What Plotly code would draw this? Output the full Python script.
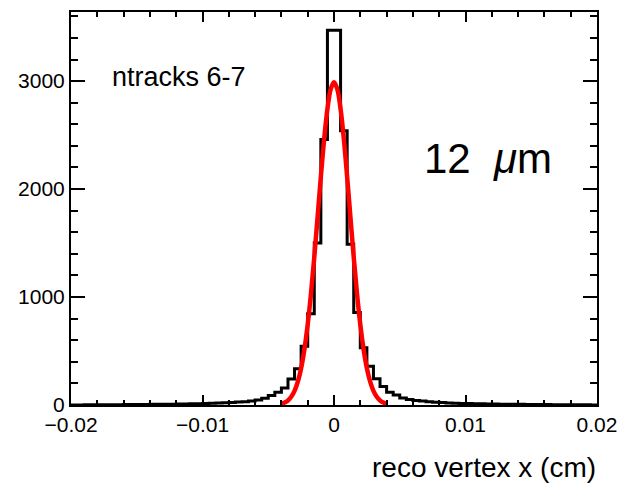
import numpy as np
import plotly.graph_objects as go

# Histogram definition
x_min, x_max, n_bins = -0.02, 0.02, 80
counts = [1, 1, 2, 2, 2, 3, 3, 3, 4, 4, 5, 5, 6, 7, 7, 8, 9, 10, 11, 12,
          14, 16, 18, 21, 24, 27, 31, 37, 47, 62, 88, 118, 158, 240, 335, 545, 845, 1500, 2460,
          3470, 3470,
          2540, 1490, 857, 530, 358, 243, 171, 118, 92, 65, 50, 42, 36, 30, 26, 22, 19, 17, 15,
          13, 12, 11, 10, 9, 8, 7, 7, 6, 5, 5, 4, 4, 3, 3, 3, 2, 2, 2, 1]

# Fit curve points
fit_x = [-0.004, -0.00375, -0.0035, -0.00325, -0.003, -0.00275, -0.0025, -0.00225, -0.002,
         -0.00175, -0.0015, -0.00125, -0.001, -0.00075, -0.0005, -0.00025, 0.0,
         0.00025, 0.0005, 0.00075, 0.001, 0.00125, 0.0015, 0.00175, 0.002,
         0.00225, 0.0025, 0.00275, 0.003, 0.00325, 0.0035, 0.00375, 0.004]
fit_y = [12, 23, 42, 76, 131, 216, 341, 516, 746, 1032, 1369, 1738, 2113, 2460, 2741, 2926, 2990,
         2926, 2741, 2460, 2113, 1738, 1369, 1032, 746, 516, 341, 216, 131, 76, 42, 23, 12]

x_ticks = [-0.02, -0.01, 0, 0.01, 0.02]
x_tick_labels = ["\u22120.02", "\u22120.01", "0", "0.01", "0.02"]
y_ticks = [0, 1000, 2000, 3000]
y_tick_labels = ["0", "1000", "2000", "3000"]

edges = np.linspace(x_min, x_max, n_bins + 1)
step_y = list(counts) + [counts[-1]]

FONT = "Liberation Sans, Arial, Helvetica, sans-serif"

fig = go.Figure()
fig.add_trace(go.Scatter(x=edges, y=step_y, mode="lines", line=dict(shape="hv", color="black", width=3),
                         showlegend=False, hoverinfo="skip"))
fig.add_trace(go.Scatter(x=fit_x, y=fit_y, mode="lines", line=dict(shape="spline", color="#ff0000", width=4.5),
                         showlegend=False, hoverinfo="skip"))

fig.update_layout(
    width=618, height=487,
    margin=dict(l=71, r=21, t=12, b=82, autoexpand=False),
    paper_bgcolor="white", plot_bgcolor="white",
    font=dict(family=FONT, color="black", size=21),
    xaxis=dict(range=[x_min, x_max], showgrid=False, zeroline=False, automargin=False,
               showline=True, linecolor="black", linewidth=2, mirror="allticks",
               ticks="inside", ticklen=10, tickwidth=2, tickcolor="black",
               tickvals=x_ticks, ticktext=x_tick_labels,
               tickfont=dict(size=21, family=FONT),
               minor=dict(dtick=0.002, tick0=0, ticks="inside", ticklen=5, tickwidth=1.5, tickcolor="black")),
    yaxis=dict(range=[0, 3640], showgrid=False, zeroline=False, automargin=False,
               showline=True, linecolor="black", linewidth=2, mirror="allticks",
               ticks="inside", ticklen=14, tickwidth=2, tickcolor="black",
               tickvals=y_ticks, ticktext=y_tick_labels,
               tickfont=dict(size=21, family=FONT),
               minor=dict(dtick=200, tick0=0, ticks="inside", ticklen=7, tickwidth=1.5, tickcolor="black")),
    annotations=[
        dict(text="ntracks 6-7", xref="paper", yref="paper", x=0.075, y=0.835,
             xanchor="left", yanchor="middle", showarrow=False, font=dict(size=27, family=FONT)),
        dict(text="12&nbsp;&nbsp;<i>\u03bc</i>m", xref="paper", yref="paper", x=0.667, y=0.628,
             xanchor="left", yanchor="middle", showarrow=False, font=dict(size=42, family=FONT)),
        dict(text="reco vertex x (cm)", xref="paper", yref="paper", x=1.002, y=-0.16,
             xanchor="right", yanchor="middle", showarrow=False, font=dict(size=28, family=FONT)),
    ],
)

fig.write_html("out.html")
